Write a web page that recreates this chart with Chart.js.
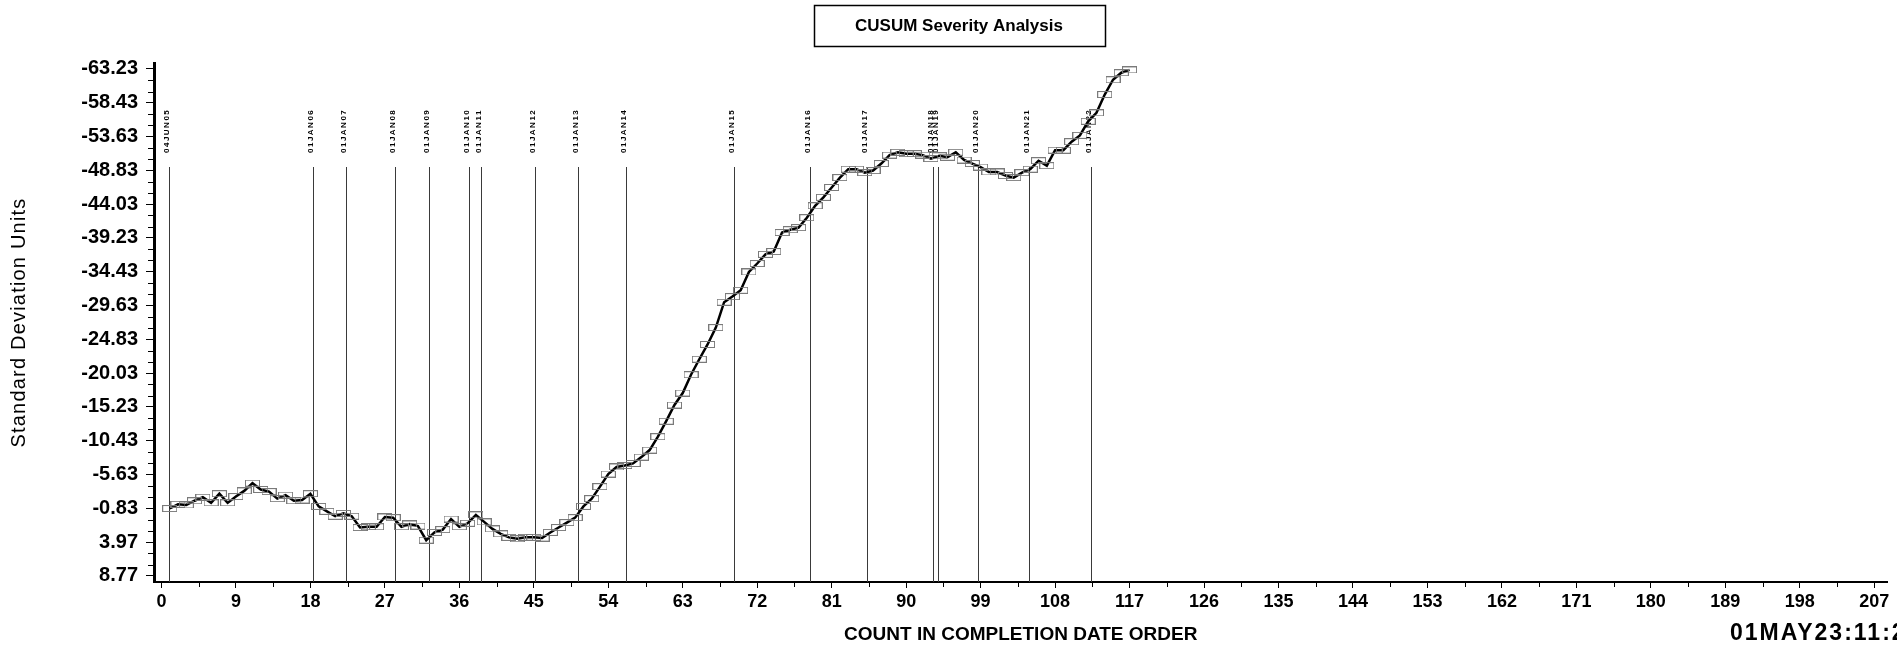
<!DOCTYPE html>
<html>
<head>
<meta charset="utf-8">
<script src="https://cdn.jsdelivr.net/npm/chart.js@4.4.0/dist/chart.umd.min.js"></script>
<style>
  html, body { margin: 0; padding: 0; background: #fff; overflow: hidden; }
  #wrap { width: 1897px; height: 649px; }
</style>
</head>
<body>
<div id="wrap"><canvas id="cusum-chart" width="1897" height="649"></canvas></div>
<script>
// valores cusum (uno por cada conteo, empezando en 1)
const cusumValues = [
  -0.8, -1.4, -1.3, -1.9, -2.4, -1.6, -2.9, -1.6, -2.5, -3.3,
  -4.4, -3.5, -3.2, -2.2, -2.7, -1.9, -2.0, -2.9, -1.1, -0.4,
  0.3, -0.1, 0.3, 1.9, 1.8, 1.8, 0.4, 0.5, 1.8, 1.4,
  1.7, 3.7, 2.6, 2.2, 0.7, 1.8, 1.3, 0.1, 1.1, 2.1,
  2.8, 3.3, 3.5, 3.3, 3.3, 3.4, 2.6, 1.9, 1.2, 0.5,
  -1.1, -2.2, -3.9, -5.7, -6.7, -6.9, -7.2, -8.1, -9.1, -11.0,
  -13.2, -15.5, -17.2, -19.8, -22.0, -24.1, -26.5, -30.1, -30.9, -31.8,
  -34.4, -35.6, -36.9, -37.3, -40.0, -40.4, -40.7, -42.1, -43.8, -45.0,
  -46.4, -47.8, -49.0, -49.0, -48.5, -48.8, -49.8, -51.0, -51.4, -51.2,
  -51.2, -51.0, -50.5, -50.9, -50.7, -51.4, -50.3, -49.8, -49.3, -48.6,
  -48.6, -48.1, -47.8, -48.5, -49.0, -50.2, -49.5, -51.7, -51.7, -52.9,
  -53.8, -55.8, -57.0, -59.6, -61.7, -62.7, -63.1
];

// lineas de referencia por fecha
const dateLabels = [
  "04JUN05", "01JAN06", "01JAN07", "01JAN08", "01JAN09", "01JAN10",
  "01JAN11", "01JAN12", "01JAN13", "01JAN14", "01JAN15", "01JAN16",
  "01JAN17", "01JAN18", "01JAN19", "01JAN20", "01JAN21", "01JAN22"
];
const dateCounts = [
  0.9, 18.3, 22.3, 28.2, 32.3, 37.2, 38.6, 45.1, 50.4, 56.1,
  69.2, 78.4, 85.3, 93.3, 93.8, 98.7, 104.8, 112.4
];

// ticks de los ejes
const yTicks = [
  -63.23, -58.43, -53.63, -48.83, -44.03, -39.23, -34.43, -29.63,
  -24.83, -20.03, -15.23, -10.43, -5.63, -0.83, 3.97, 8.77
];
const xTicks = [
  0, 9, 18, 27, 36, 45, 54, 63, 72, 81, 90, 99, 108, 117,
  126, 135, 144, 153, 162, 171, 180, 189, 198, 207
];

const chartTitle = "CUSUM Severity Analysis";
const yTitle = "Standard Deviation Units";
const stampText = "01MAY23:11:2";

// marcador: rectangulo abierto gris
const boxMarker = document.createElement("canvas");
boxMarker.width = 15;
boxMarker.height = 7;
const bctx = boxMarker.getContext("2d");
bctx.strokeStyle = "#7a7a7a";
bctx.lineWidth = 1;
bctx.strokeRect(0.5, 0.5, 14, 6);

const points = cusumValues.map((v, i) => ({ x: i + 1, y: v }));

const decorations = {
  id: "decorations",
  beforeDatasetsDraw(chart) {
    const { ctx, chartArea } = chart;
    const x = chart.scales.x;
    ctx.save();
    ctx.strokeStyle = "#3a3a3a";
    ctx.lineWidth = 1;
    dateCounts.forEach((c, i) => {
      const px = Math.round(x.getPixelForValue(c)) + 0.5;
      ctx.beginPath();
      ctx.moveTo(px, chartArea.top + 104);
      ctx.lineTo(px, chartArea.bottom);
      ctx.stroke();
      ctx.save();
      ctx.translate(px - 3, chartArea.top + 90);
      ctx.rotate(-Math.PI / 2);
      ctx.font = "bold 8px 'Liberation Sans'";
      ctx.letterSpacing = "1.5px";
      ctx.fillStyle = "#000";
      ctx.textBaseline = "middle";
      ctx.textAlign = "left";
      ctx.fillText(dateLabels[i], 0, 0);
      ctx.restore();
    });
    ctx.restore();
  },
  afterDraw(chart) {
    const { ctx, chartArea } = chart;
    const x = chart.scales.x;
    const y = chart.scales.y;
    ctx.save();
    ctx.strokeStyle = "#000";
    ctx.lineWidth = 1;
    // ticks menores eje y
    for (let i = 0; i < yTicks.length - 1; i++) {
      const step = (yTicks[i + 1] - yTicks[i]) / 3;
      for (let k = 1; k < 3; k++) {
        const py = Math.round(y.getPixelForValue(yTicks[i] + step * k)) + 0.5;
        ctx.beginPath();
        ctx.moveTo(chartArea.left - 1, py);
        ctx.lineTo(chartArea.left - 6, py);
        ctx.stroke();
      }
    }
    // ticks menores eje x
    for (let i = 0; i < xTicks.length - 1; i++) {
      const px = Math.round(x.getPixelForValue((xTicks[i] + xTicks[i + 1]) / 2)) + 0.5;
      ctx.beginPath();
      ctx.moveTo(px, chartArea.bottom + 1);
      ctx.lineTo(px, chartArea.bottom + 5);
      ctx.stroke();
    }
    // titulo del eje y, con espaciado
    ctx.save();
    ctx.translate(19, (chartArea.top + chartArea.bottom) / 2);
    ctx.rotate(-Math.PI / 2);
    ctx.font = "20px 'Liberation Sans'";
    ctx.letterSpacing = "1.2px";
    ctx.fillStyle = "#000";
    ctx.textAlign = "center";
    ctx.textBaseline = "middle";
    ctx.fillText(yTitle, 0, 0);
    ctx.restore();
    // caja del titulo
    ctx.lineWidth = 1.5;
    ctx.strokeRect(814.5, 5.5, 291, 41);
    ctx.fillStyle = "#000";
    ctx.font = "bold 17px 'Liberation Sans'";
    ctx.textAlign = "center";
    ctx.textBaseline = "middle";
    ctx.fillText(chartTitle, 959, 26);
    // fecha de impresion
    ctx.font = "bold 23px 'Liberation Sans'";
    ctx.letterSpacing = "2px";
    ctx.textAlign = "left";
    ctx.fillText(stampText, 1730, 634);
    ctx.restore();
  }
};

const contenedor = document.querySelector("#cusum-chart").getContext("2d");

const cusumChart = new Chart(contenedor, {
  type: "line",
  data: {
    datasets: [
      {
        label: "CUSUM",
        data: points,
        borderColor: "#000",
        borderWidth: 2.5,
        tension: 0,
        pointStyle: boxMarker,
        pointRadius: 7,
        pointHoverRadius: 7,
        fill: false,
      },
    ],
  },
  options: {
    responsive: false,
    animation: false,
    layout: { padding: { top: 63, right: 0, left: 0, bottom: 0 } },
    plugins: {
      legend: { display: false },
      title: { display: false },
      tooltip: { enabled: false },
    },
    scales: {
      x: {
        type: "linear",
        min: -0.9,
        max: 208.6,
        afterBuildTicks: (scale) => {
          scale.ticks = xTicks.map((v) => ({ value: v }));
        },
        afterFit: (scale) => {
          scale.height = 67;
          scale.paddingLeft = 0;
          scale.paddingRight = 0;
        },
        grid: {
          drawOnChartArea: false,
          drawTicks: true,
          tickLength: 6,
          color: "#000",
        },
        border: { display: true, color: "#000", width: 2 },
        ticks: {
          color: "#000",
          padding: 3,
          maxRotation: 0,
          autoSkip: false,
          font: { family: "'Liberation Sans'", size: 18, weight: "bold" },
          callback: (v) => String(v),
        },
        title: {
          display: true,
          text: "COUNT IN COMPLETION DATE ORDER",
          color: "#000",
          font: { family: "'Liberation Sans'", size: 19, weight: "bold" },
          padding: { top: 0, bottom: 3 },
        },
      },
      y: {
        type: "linear",
        reverse: true,
        min: -64.08,
        max: 9.64,
        afterBuildTicks: (scale) => {
          scale.ticks = yTicks.map((v) => ({ value: v }));
        },
        afterFit: (scale) => {
          scale.width = 154;
        },
        grid: {
          drawOnChartArea: false,
          drawTicks: true,
          tickLength: 8,
          color: "#000",
        },
        border: { display: true, color: "#000", width: 3 },
        ticks: {
          color: "#000",
          padding: 8,
          autoSkip: false,
          font: { family: "'Liberation Sans'", size: 20, weight: "bold" },
          callback: (v) => v.toFixed(2),
        },
        title: { display: false },
      },
    },
  },
  plugins: [decorations],
});
</script>
</body>
</html>
